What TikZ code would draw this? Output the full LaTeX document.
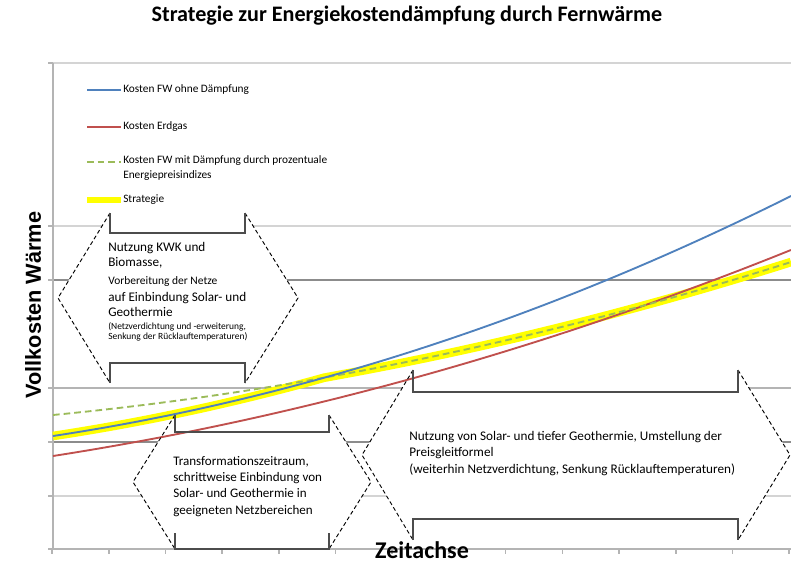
\documentclass[tikz,border=0pt]{standalone}
\usepackage{fontspec}
\setmainfont{Carlito}
\newfontfamily\achsenfont{Liberation Sans}
\usetikzlibrary{positioning}

\definecolor{kostenblau}{HTML}{4F81BD}
\definecolor{kostenrot}{HTML}{C0504D}
\definecolor{kostengruen}{HTML}{9BBB59}
\definecolor{strategiegelb}{HTML}{FFFF00}
\definecolor{gitterhell}{HTML}{D4D4D4}
\definecolor{gittermittel}{HTML}{B4B4B4}
\definecolor{gitterdunkel}{HTML}{8C8C8C}

\begin{document}
\begin{tikzpicture}[x=0.75pt,y=-0.75pt,
		declare function={
			ohne(\x)=436-15.1*((\x-53)/100)-2.36*((\x-53)/100)^2;
			erdgas(\x)=456-15.57*((\x-53)/100)-1.673*((\x-53)/100)^2;
			mit(\x)=415-9.73*((\x-53)/100)-1.49*((\x-53)/100)^2;},
		achse/.style={draw=gittermittel,line width=1.2pt},
		kurve/.style={line width=1.4pt,line join=round},
		rand/.style={densely dashed,line width=0.7pt},
		klammer/.style={draw=black!70,line width=1.1pt},
		legende/.style={anchor=west,inner sep=0pt,align=left,font=\fontsize{8.5}{11.2}\selectfont},
		zeile/.style={anchor=base west,inner sep=0pt,font=\fontsize{9.9}{12}\selectfont},
		block/.style={anchor=north west,inner sep=0pt,align=left}]
	\useasboundingbox (0,0) rectangle (791,563);
	% Gitter
	\foreach \y/\farbe in {63/gitterhell,226/gitterhell,280/gitterdunkel,388/gittermittel,442/gitterdunkel,496/gitterhell}
		\draw[\farbe,line width=0.9pt] (53,\y) -- (791,\y);
	% Flaechen der Zeitraeume
	\fill[white] (110,213) -- (58,298) -- (110,383) -- (245,383) -- (298,298) -- (245,213) -- cycle;
	\fill[white] (175,415) -- (133,482) -- (175,549) -- (329,549) -- (371,482) -- (329,415) -- cycle;
	\fill[white] (413,370) -- (362,455) -- (413,540) -- (738,540) -- (790,455) -- (738,370) -- cycle;
	% Achsen
	\draw[achse] (53,63) -- (53,549) -- (791,549);
	\foreach \y in {63,226,280,388,442,496,549}
		\draw[achse] (48,\y) -- (53,\y);
	\foreach \i in {0,...,13}
		\draw[achse] ({52+56.7*\i},549) -- ++(0,5);
	% Kurven
	\draw[strategiegelb,line width=6.5pt,line join=round] plot[domain=53:791,samples=80] (\x,{max(ohne(\x),mit(\x))});
	\draw[kurve,kostenrot] plot[domain=53:791,samples=60] (\x,{erdgas(\x)});
	\draw[kurve,kostengruen,dash pattern=on 5pt off 3pt] plot[domain=53:791,samples=60] (\x,{mit(\x)});
	\draw[kurve,kostenblau] plot[domain=53:791,samples=60] (\x,{ohne(\x)});
	% Zeitraeume
	\draw[rand] (110,213) -- (58,298) -- (110,383) (245,213) -- (298,298) -- (245,383);
	\draw[klammer] (110,213) |- (245,233) -- (245,213);
	\draw[klammer] (110,383) |- (245,363) -- (245,383);
	\draw[rand] (175,415) -- (133,482) -- (175,549) (329,415) -- (371,482) -- (329,549);
	\draw[klammer] (175,415) |- (329,432) -- (329,415);
	\draw[klammer] (175,533) |- (329,549) -- (329,533);
	\draw[rand] (413,370) -- (362,455) -- (413,540) (738,370) -- (790,455) -- (738,540);
	\draw[klammer] (413,370) |- (738,392) -- (738,370);
	\draw[klammer] (413,540) |- (738,519) -- (738,540);
	% Texte
	\node[zeile] (links1) at (108,251) {Nutzung KWK und};
	\node[zeile,below=11.25pt of links1.base west,anchor=base west] (links2) {Biomasse,};
	\node[zeile,font=\fontsize{8.6}{10}\selectfont,below=13.5pt of links2.base west,anchor=base west] (links3) {Vorbereitung der Netze};
	\node[zeile,below=12.75pt of links3.base west,anchor=base west] (links4) {auf Einbindung Solar- und};
	\node[zeile,below=11.25pt of links4.base west,anchor=base west] (links5) {Geothermie};
	\node[zeile,font=\fontsize{7.1}{8}\selectfont,below=9.75pt of links5.base west,anchor=base west] (links6) {(Netzverdichtung und -erweiterung,};
	\node[zeile,font=\fontsize{7.1}{8}\selectfont,below=7.5pt of links6.base west,anchor=base west] (links7) {Senkung der Rücklauftemperaturen)};
	\node[block,font=\fontsize{9.8}{12.2}\selectfont] (mitte) at (173,456) {Transformationszeitraum,\\schrittweise Einbindung von\\Solar- und Geothermie in\\geeigneten Netzbereichen};
	\node[block,font=\fontsize{9.9}{12.4}\selectfont] (rechts) at (409,431) {Nutzung von Solar- und tiefer Geothermie, Umstellung der\\Preisgleitformel\\(weiterhin Netzverdichtung, Senkung Rücklauftemperaturen)};
	% Legende
	\draw[kostenblau,line width=1.4pt] (87,90) -- (121,90);
	\node[legende] (leg1) at (123,90) {Kosten FW ohne Dämpfung};
	\draw[kostenrot,line width=1.4pt] (87,127) -- (121,127);
	\node[legende] (leg2) at (123,127) {Kosten Erdgas};
	\draw[kostengruen,line width=1.4pt,dash pattern=on 5pt off 3pt] (87,162) -- (121,162);
	\node[legende,anchor=north west] (leg3) at (123,155) {Kosten FW mit Dämpfung durch prozentuale\\Energiepreisindizes};
	\draw[strategiegelb,line width=4pt] (87,200) -- (121,200);
	\node[legende] (leg4) at (123,200) {Strategie};
	% Beschriftung
	\node[font=\fontsize{16.6}{19}\selectfont\bfseries] (titel) at (407,16) {Strategie zur Energiekostendämpfung durch Fernwärme};
	\node[font=\achsenfont\fontsize{16.3}{19}\selectfont\bfseries,rotate=90] (yachse) at (33,305) {Vollkosten Wärme};
	\node[font=\fontsize{18}{20}\selectfont\bfseries,inner sep=0pt] (xachse) at (422,550) {Zeitachse};
\end{tikzpicture}
\end{document}
